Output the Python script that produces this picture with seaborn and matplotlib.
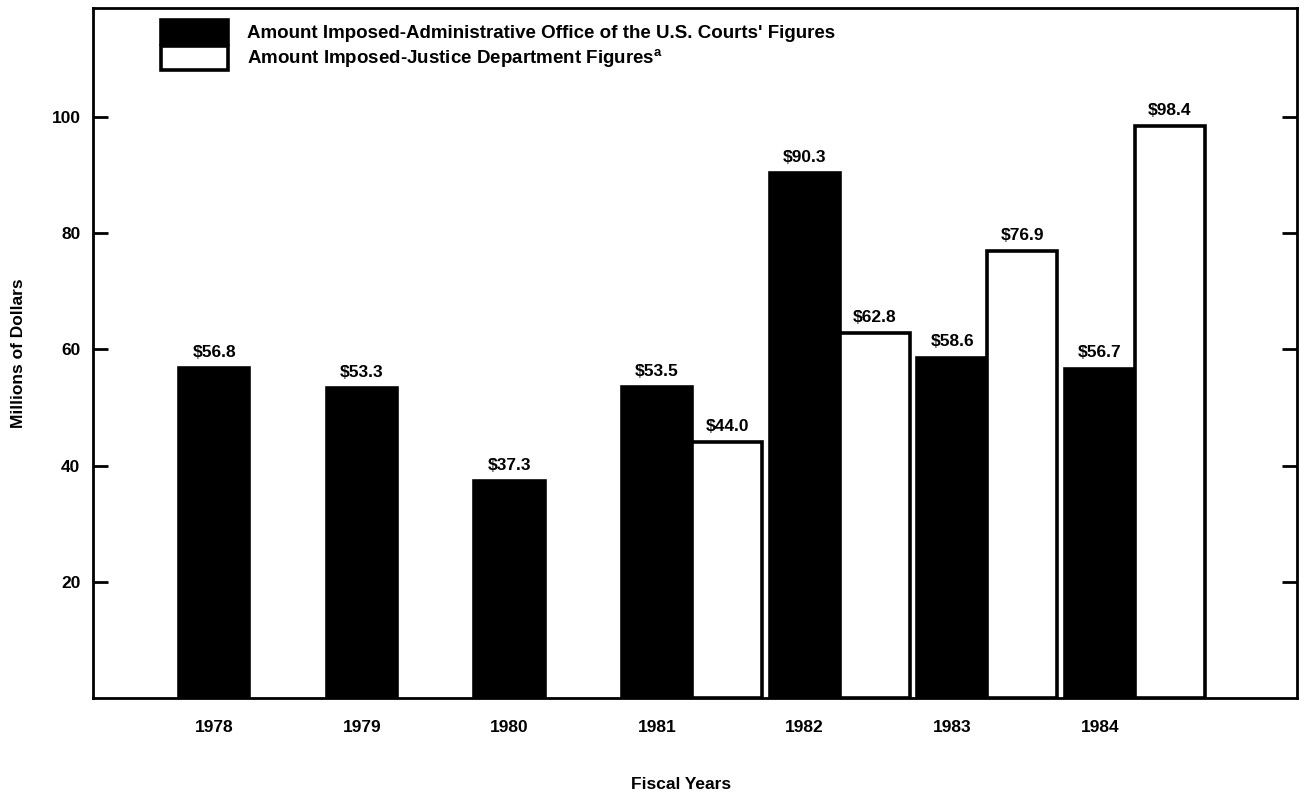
import numpy as np
import pandas as pd
import seaborn as sns
import matplotlib.pyplot as plt

# **Chart data**
years = ['1978', '1979', '1980', '1981', '1982', '1983', '1984']
ao_amounts = [56.8, 53.3, 37.3, 53.5, 90.3, 58.6, 56.7]
doj_years = ['1981', '1982', '1983', '1984']
doj_amounts = [44.0, 62.8, 76.9, 98.4]

ao_label = "Amount Imposed-Administrative Office of the U.S. Courts' Figures"
doj_label = "Amount Imposed-Justice Department Figures$^{\\mathrm{a}}$"

y_ticks = [20, 40, 60, 80, 100]

# **Build long table**
df = pd.concat([
    pd.DataFrame({'year': years, 'amount': ao_amounts, 'source': ao_label}),
    pd.DataFrame({'year': doj_years, 'amount': doj_amounts, 'source': doj_label}),
], ignore_index=True)

sns.set_style('white')
plt.rcParams['font.family'] = ['Liberation Sans', 'DejaVu Sans']
plt.rcParams['font.weight'] = 'bold'
plt.rcParams['axes.labelweight'] = 'bold'
plt.rcParams['mathtext.fontset'] = 'custom'
plt.rcParams['mathtext.rm'] = 'Liberation Sans:bold'
for key in ['text.color', 'axes.labelcolor', 'xtick.color', 'ytick.color']:
    plt.rcParams[key] = 'black'

fig = plt.figure(figsize=(13.09, 7.95), dpi=100)
ax = fig.add_axes([0.071, 0.122, 0.920, 0.868])

bar_width = 0.95
sns.barplot(data=df, x='year', y='amount', hue='source', order=years,
            hue_order=[ao_label, doj_label],
            palette={ao_label: 'black', doj_label: 'white'},
            edgecolor='black', linewidth=2.6, width=bar_width, gap=0,
            errorbar=None, ax=ax)

# value labels above bars
for cont in ax.containers:
    ax.bar_label(cont, labels=[f'${b.get_height():.1f}' for b in cont],
                 padding=6, fontsize=12.5)

ax.set_xlim(-1.06, 7.10)
ax.set_ylim(0, 118.8)

ax.set_yticks(y_ticks)
ax.tick_params(axis='y', direction='in', length=11, width=2, labelsize=12.5,
               right=True, left=True, pad=9)
ax.set_xticks(np.arange(len(years)) - bar_width / 4, labels=years)
ax.tick_params(axis='x', length=0, labelsize=12.5, pad=16)

for sp in ax.spines.values():
    sp.set_linewidth(2)
    sp.set_color('black')

ax.set_xlabel('Fiscal Years', fontsize=12.5, labelpad=36)
ax.xaxis.set_label_coords(0.488, -0.115)
ax.set_ylabel('Millions of Dollars', fontsize=12.5, labelpad=18)

leg = ax.legend(loc='upper left', bbox_to_anchor=(0.044, 1.004), frameon=False,
                handlelength=3.6, handleheight=1.55, fontsize=13.5,
                labelspacing=0.15, handletextpad=1.0, borderaxespad=0.4)
for h in leg.legend_handles:
    h.set_edgecolor('black')
    h.set_linewidth(2.6)

fig.savefig('out.png', dpi=100)
